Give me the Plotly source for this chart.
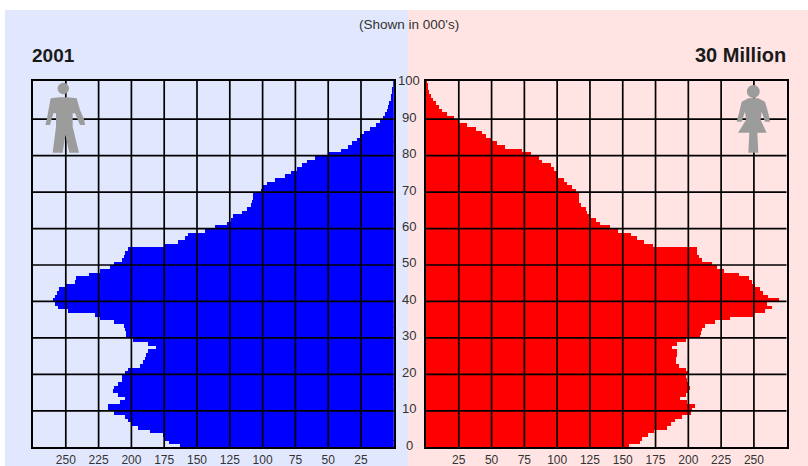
import plotly.graph_objects as go

W, H = 808, 466

male = [163,171,174.5,176,186,195,200,202.5,205,213,
        218,218,209,205,210,214,213.5,210,207.5,207.5,
        205,202.5,193.5,191,190,188.5,187,181,187,199,
        204,204,205,206,213,224,228,248,256,258.5,
        260,258,257,255,249.5,243,242,232,224,216.5,
        213,207.5,206,205,202.5,174.5,164.5,159,157,144,
        136,127.5,124,122.6,116,112,108.5,108,107.5,107,
        101.5,100.8,97,90.6,83,78,74,70,66,60,
        50,40.5,34.6,32,28,25.7,23,18,13.5,10.4,
        8,7,5.3,4.6,3.6,2.5,1.8,1.3,0.8,0.5,0.2]
female = [155,163,165,169,174,184,186.5,190,195,202,
          203,205,199,194,198.5,200.5,201,200.5,199,198.5,
          200,198,193,190.5,190.5,191,191,187.5,191.5,198,
          209,210,210.5,213,220.5,232,250,258.5,263.5,260,
          269,261,257,255,251,248.5,246,238.5,227,222,
          218,210.5,208,206.5,206.5,173.4,166.2,161,156,146.6,
          140.5,132.5,129.5,125,122.5,122,118,117,116.5,116.5,
          114,111.5,107.5,105,101,100,97.5,95,88.5,86,
          80,73,60.5,54,50.5,45.5,43,38,31.5,25,
          21,16,12.5,10,7.5,5.5,3.5,2.5,1.5,1,0.7]
ages = list(range(len(male)))
age_pos = [a + 0.5 for a in ages]
value_ticks = [25, 50, 75, 100, 125, 150, 175, 200, 225, 250]
age_ticks = [0, 10, 20, 30, 40, 50, 60, 70, 80, 90, 100]
man_path = [(62,85),(88,82),(112,82),(140,85),(150,120),(163,150),(165,165),(150,165),(135,130),(128,130),
            (128,170),(147,248),(118,248),(106,195),(98,248),(68,248),(78,170),(78,130),(70,130),(60,165),(46,165),(50,150)]
woman_path = [(85,85),(115,85),(135,95),(145,130),(150,155),(135,155),(125,125),(122,150),(140,188),(112,188),
              (115,248),(85,248),(88,188),(54,188),(78,150),(75,125),(65,155),(50,155),(58,125),(65,95)]

def px(x): return x / W
def py(y): return 1 - y / H

TOP, BOTTOM = 80.5, 447.3
L0, L1 = 33.0, 393.8
R0, R1 = 426.0, 786.7
XMAX = 275
YMIN, YMAX = 0, 100.6
GRAY = "#9c9c9c"
FONT = "Liberation Sans"

fig = go.Figure()
fig.add_trace(go.Bar(y=age_pos, x=male, orientation="h", width=1.03, xaxis="x", yaxis="y",
                     marker=dict(color="#0000ff", line=dict(width=0)), showlegend=False))
fig.add_trace(go.Bar(y=age_pos, x=female, orientation="h", width=1.03, xaxis="x2", yaxis="y2",
                     marker=dict(color="#ff0000", line=dict(width=0)), showlegend=False))

def rect(x0, y0, x1, y1, color):
    return dict(type="rect", xref="paper", yref="paper", x0=px(x0), x1=px(x1), y0=py(y0), y1=py(y1),
                fillcolor=color, line=dict(width=0), layer="below")

def path_from(points, ox, oy):
    s = "M " + " L ".join(f"{px(ox + a / 3):.5f},{py(oy + b / 3):.5f}" for a, b in points) + " Z"
    return dict(type="path", xref="paper", yref="paper", path=s, fillcolor=GRAY, line=dict(width=0), layer="above")

def circle(cx, cy, r):
    return dict(type="circle", xref="paper", yref="paper", x0=px(cx - r), x1=px(cx + r),
                y0=py(cy + r), y1=py(cy - r), fillcolor=GRAY, line=dict(width=0), layer="above")

shapes = [rect(5, 10, 408, H, "#e1e8fd"), rect(408, 10, W, H, "#ffe4e3")]
grid = dict(color="#000000", width=1.7)
for xa, ya in (("x", "y"), ("x2", "y2")):
    for v in value_ticks:
        shapes.append(dict(type="line", xref=xa, yref=ya, x0=v, x1=v, y0=YMIN, y1=YMAX, line=grid, layer="above"))
    for a in age_ticks[1:-1]:
        shapes.append(dict(type="line", xref=xa, yref=ya, x0=0, x1=XMAX, y0=a, y1=a, line=grid, layer="above"))

shapes += [circle(63.3, 88.5, 5.7), path_from(man_path, 30, 70),
           circle(753.3, 91.5, 6.5), path_from(woman_path, 720, 70)]

annotations = [
    dict(text="<b>2001</b>", x=px(30), y=py(55), xref="paper", yref="paper", xanchor="left", yanchor="middle",
         showarrow=False, font=dict(family=FONT, size=19, color="#1a1a1a")),
    dict(text="<b>30 Million</b>", x=px(788), y=py(55), xref="paper", yref="paper", xanchor="right", yanchor="middle",
         showarrow=False, font=dict(family=FONT, size=20, color="#1a1a1a")),
    dict(text="(Shown in 000's)", x=px(409), y=py(25), xref="paper", yref="paper", xanchor="center", yanchor="middle",
         showarrow=False, font=dict(family=FONT, size=13.5, color="#333333")),
]
for a in age_ticks:
    annotations.append(dict(text=str(a), x=px(409), y=a, xref="paper", yref="y", xanchor="center", yanchor="middle",
                            yshift=2, showarrow=False, font=dict(family=FONT, size=13, color="#333333")))

def xaxis(domain, rng, anchor):
    return dict(domain=domain, range=rng, anchor=anchor, tickmode="array", tickvals=value_ticks,
                ticktext=[str(v) for v in value_ticks], ticks="", showgrid=False, zeroline=False,
                showline=True, linecolor="#000000", linewidth=2, mirror=True, layer="above traces",
                tickfont=dict(family=FONT, size=12, color="#333333"))

def yaxis(anchor):
    return dict(domain=[py(BOTTOM), py(TOP)], range=[YMIN, YMAX], anchor=anchor, showticklabels=False, ticks="",
                showgrid=False, zeroline=False, showline=True, linecolor="#000000", linewidth=2, mirror=True,
                layer="above traces")

fig.update_layout(
    width=W, height=H, margin=dict(l=0, r=0, t=0, b=0), paper_bgcolor="#ffffff", plot_bgcolor="rgba(0,0,0,0)",
    showlegend=False, bargap=0,
    xaxis=xaxis([px(L0), px(L1)], [XMAX, 0], "y"),
    yaxis=yaxis("x"),
    xaxis2=xaxis([px(R0), px(R1)], [0, XMAX], "y2"),
    yaxis2=yaxis("x2"),
    shapes=shapes, annotations=annotations,
)
fig.write_html("out.html", config=dict(displayModeBar=False),
               post_script="document.body.style.margin='0';")
